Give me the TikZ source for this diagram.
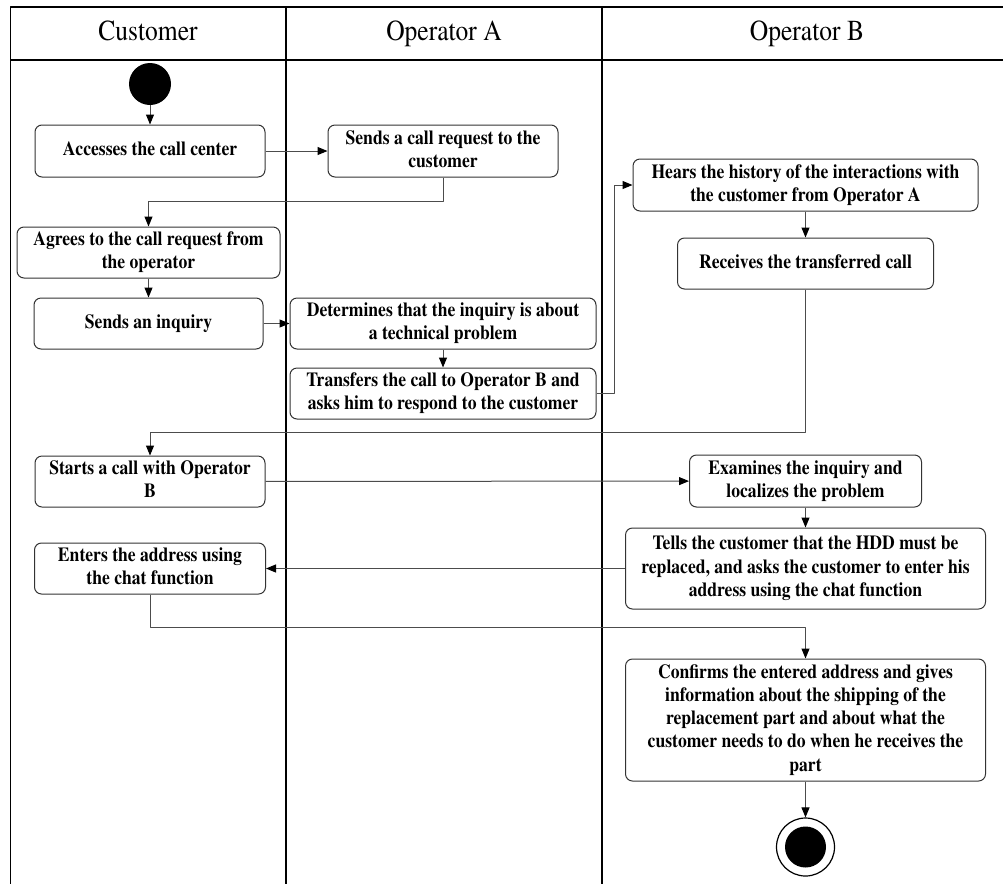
\documentclass[tikz,border=0pt]{standalone}
\usepackage[T1]{fontenc}
\usepackage{times}
\usetikzlibrary{arrows.meta}
\newcommand\nar[1]{\scalebox{0.88}[1]{\begin{tabular}{@{}c@{}}#1\end{tabular}}}
\tikzset{
	act/.style 2 args={draw=black!80, fill=white, line width=1pt, rounded corners=7pt, align=center, inner sep=0pt, minimum width=#1pt, minimum height=#2pt, font=\fontsize{20}{23.3}\selectfont\bfseries},
	flow/.style={draw=black!70, line width=1pt, -{Triangle[length=10pt, width=8pt, color=black]}},
	lane/.style={line width=1.6pt}
}
\begin{document}
\begin{tikzpicture}[x=1pt, y=-1pt, line join=round]
			\useasboundingbox (0,0) rectangle (1003,884);
			
			\draw[lane] (1003,7) -- (10.5,7) -- (10.5,884) (10.5,60) -- (1003,60);
			\foreach \x in {286,602}
			\draw[lane] (\x,7) -- (\x,884);
			\foreach \x/\lbl in {148/Customer, 444/Operator A, 807/Operator B}
			\node[inner sep=0pt, font=\fontsize{29}{34}\selectfont] (hd\x) at (\x,34) {\nar{\lbl}};
			
			\node[circle, fill=black, minimum size=42pt, inner sep=0pt] (init) at (150,84) {};
			\node[act={230}{52}] (acc) at (150,151) {\nar{Accesses the call center}};
			\node[act={230}{52}] (req) at (443,151) {\nar{Sends a call request to the\\customer}};
			\node[act={263}{51}] (agree) at (148.5,252.5) {\nar{Agrees to the call request from\\the operator}};
			\node[act={229}{51}] (inq) at (148.5,323.5) {\nar{Sends an inquiry}};
			\node[act={306}{51}] (det) at (443,323.5) {\nar{Determines that the inquiry is about\\a technical problem}};
			\node[act={306}{51}] (trans) at (443,393.5) {\nar{Transfers the call to Operator B and\\asks him to respond to the customer}};
			\node[act={345}{52}] (hear) at (805.5,185) {\nar{Hears the history of the interactions with\\the customer from Operator A}};
			\node[act={256}{51}] (recv) at (805.5,263.5) {\nar{Receives the transferred call}};
			\node[act={230}{51}] (call) at (150,481.5) {\nar{Starts a call with Operator\\B}};
			\node[act={232}{52}] (exam) at (805.5,481) {\nar{Examines the inquiry and\\localizes the problem}};
			\node[act={231}{51}] (enter) at (150,568.5) {\nar{Enters the address using\\the chat function}};
			\node[act={360}{81}] (tell) at (805.5,568.5) {\nar{Tells the customer that the HDD must be\\replaced, and asks the customer to enter his\\address using the chat function}};
			\node[act={360}{122}] (conf) at (805.5,720) {\nar{Confirms the entered address and gives\\information about the shipping of the\\replacement part and about what the\\customer needs to do when he receives the\\part}};
			\node[circle, draw, fill=white, line width=1.2pt, minimum size=58pt, inner sep=0pt] (fin) at (805.5,847) {};
			\fill (fin) circle (20.5);
			
			\path (148.5,201) coordinate (b1)
			(150,432) coordinate (b2)
			(805.5,627) coordinate (b3);
			
			\draw[flow] (init) -- (acc);
			\draw[flow] (acc) -- (req);
			\draw[flow] (req.south) |- (b1) -- (agree.north);
			\draw[flow] (agree) -- (inq);
			\draw[flow] (inq) -- (det);
			\draw[flow] (det) -- (trans);
			\draw[flow] (trans.east) -- ++(18,0) |- (hear.west);
			\draw[flow] (hear) -- (recv);
			\draw[flow] (recv.south) |- (b2) -- (call.north);
			\draw[flow] (call) -- (exam);
			\draw[flow] (exam) -- (tell);
			\draw[flow] (tell) -- (enter);
			\draw[flow] (enter.south) |- (b3) -- (conf.north);
			\draw[flow] (conf) -- (fin);
		\end{tikzpicture}
\end{document}
